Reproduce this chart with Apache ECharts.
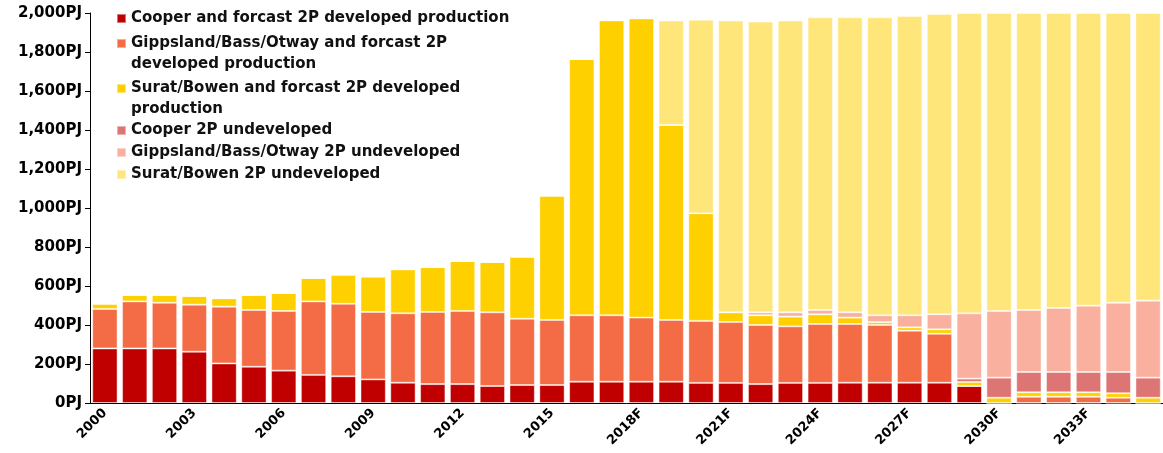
<!DOCTYPE html>
<html>
<head>
<meta charset="utf-8">
<script src="https://cdn.jsdelivr.net/npm/echarts@6/dist/echarts.min.js"></script>
<style>
  html, body { margin: 0; padding: 0; background: #fff; }
  #chart1 { width: 1163px; height: 453px; }
</style>
</head>
<body>
<div id="chart1"></div>
<script>
var years = ['2000', '2001', '2002', '2003', '2004', '2005', '2006', '2007', '2008', '2009',
    '2010', '2011', '2012', '2013', '2014', '2015', '2016', '2017', '2018F', '2019F',
    '2020F', '2021F', '2022F', '2023F', '2024F', '2025F', '2026F', '2027F', '2028F', '2029F',
    '2030F', '2031F', '2032F', '2033F', '2034F', '2035F'];

// PJ per year
var cooperDev = [280, 280, 280, 263, 203, 186, 166, 144, 137, 121, 104, 97, 97, 87, 92, 92, 109, 109, 109, 109,
    103, 103, 97, 103, 103, 104, 104, 104, 104, 87, 0, 0, 0, 0, 0, 0];
var gippsDev = [202, 241, 234, 241, 291, 291, 306, 377, 372, 346, 356, 370, 375, 378, 340, 334, 341, 341, 329, 317,
    318, 312, 303, 290, 302, 301, 296, 267, 251, 0, 0, 32, 32, 32, 27, 0];
var suratDev = [27, 33, 40, 45, 43, 77, 92, 120, 149, 181, 225, 230, 256, 258, 318, 637, 1314, 1512, 1534, 1000,
    552, 50, 50, 50, 50, 33, 15, 17, 23, 21, 27, 23, 23, 23, 23, 27];
var cooperUndev = [0, 0, 0, 0, 0, 0, 0, 0, 0, 0, 0, 0, 0, 0, 0, 0, 0, 0, 0, 0,
    0, 0, 0, 0, 0, 0, 0, 0, 0, 17, 103, 104, 104, 104, 109, 103];
var gippsUndev = [0, 0, 0, 0, 0, 0, 0, 0, 0, 0, 0, 0, 0, 0, 0, 0, 0, 0, 0, 0,
    0, 0, 15, 22, 22, 27, 35, 62, 77, 335, 342, 318, 328, 340, 355, 395];
var suratUndev = [0, 0, 0, 0, 0, 0, 0, 0, 0, 0, 0, 0, 0, 0, 0, 0, 0, 0, 0, 535,
    993, 1496, 1491, 1496, 1501, 1513, 1528, 1535, 1540, 1540, 1528, 1523, 1513, 1501, 1486, 1475];

var names = ['Cooper and forcast 2P developed production',
    'Gippsland/Bass/Otway and forcast 2P developed production',
    'Surat/Bowen and forcast 2P developed production',
    'Cooper 2P undeveloped',
    'Gippsland/Bass/Otway 2P undeveloped',
    'Surat/Bowen 2P undeveloped'];
// legend wording as wrapped in the picture
var legendText = ['Cooper and forcast 2P developed production',
    'Gippsland/Bass/Otway and forcast 2P\ndeveloped production',
    'Surat/Bowen and forcast 2P developed\nproduction',
    'Cooper 2P undeveloped',
    'Gippsland/Bass/Otway 2P undeveloped',
    'Surat/Bowen 2P undeveloped'];
var colors = ['#C00000', '#F36C45', '#FFD000', '#DD7575', '#F9B09E', '#FFE67A'];
var values = [cooperDev, gippsDev, suratDev, cooperUndev, gippsUndev, suratUndev];

var chart = echarts.init(document.getElementById('chart1'));

// one legend per entry so the wrapped ones keep the square on the first line
var legendTops = [8, 12, 57, 120, 142, 164];
var legends = names.map(function (n, i) {
    var txt = legendText[i];
    // a blank first line keeps the first text line centred on the square
    if (txt.indexOf('\n') >= 0) txt = ' \n' + txt;
    return {
        data: [n],
        left: 116,
        top: legendTops[i],
        padding: 0,
        icon: 'rect',
        itemWidth: 9,
        itemHeight: 9,
        selectedMode: false,
        formatter: function () { return txt; },
        textStyle: {
            fontFamily: 'DejaVu Sans',
            fontWeight: 'bold',
            fontSize: 15,
            color: '#111',
            lineHeight: 21
        }
    };
});

var option = {
    animation: false,
    color: colors,
    grid: { left: 90, right: -4, top: 13, bottom: 50 },
    legend: legends,
    xAxis: {
        type: 'category',
        data: years,
        axisLine: { lineStyle: { color: '#000', width: 1 } },
        axisTick: { interval: 0, length: 5, lineStyle: { color: '#000' } },
        axisLabel: {
            interval: 2,
            rotate: 45,
            margin: 8,
            color: '#000',
            fontFamily: 'DejaVu Sans',
            fontWeight: 'bold',
            fontSize: 13
        }
    },
    yAxis: {
        type: 'value',
        min: 0,
        max: 2000,
        interval: 200,
        splitLine: { show: false },
        axisLine: { show: true, lineStyle: { color: '#000', width: 1 } },
        axisTick: { show: true, length: 5, lineStyle: { color: '#000' } },
        axisLabel: {
            margin: 8,
            color: '#000',
            fontFamily: 'DejaVu Sans',
            fontWeight: 'bold',
            fontSize: 15,
            formatter: function (v) { return v.toLocaleString('en-US') + 'PJ'; }
        }
    },
    series: names.map(function (n, i) {
        return {
            name: n,
            type: 'bar',
            stack: 'total',
            barCategoryGap: '15%',
            data: values[i],
            itemStyle: { color: colors[i], borderColor: 'rgba(255,255,255,0.45)', borderWidth: 1 }
        };
    })
};

chart.setOption(option);
</script>
</body>
</html>
